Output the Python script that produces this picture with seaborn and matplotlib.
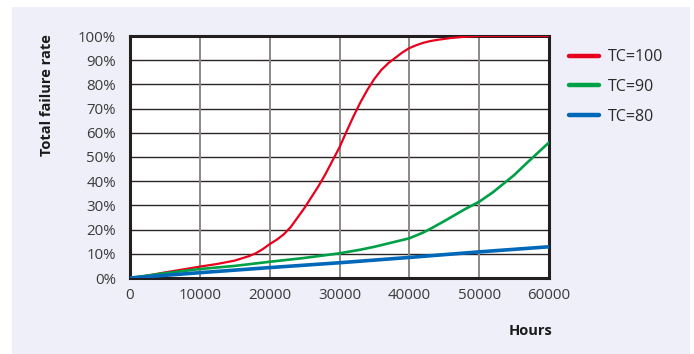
import matplotlib
matplotlib.use("Agg")
import matplotlib.pyplot as plt
import seaborn as sns
import pandas as pd
from matplotlib.patches import Rectangle

sns.set_theme(style="white")
plt.rcParams['font.family'] = ['Open Sans', 'DejaVu Sans']

hours_100 = [0, 2500, 5000, 7500, 10000, 12500, 15000, 17000, 18000, 19000, 20000, 21000, 22000,
             23000, 24000, 25000, 26000, 27000, 28000, 29000, 30000, 31000, 32000, 33000, 34000,
             35000, 36000, 37000, 38000, 39000, 40000, 41000, 42000, 43000, 44000, 46000, 48000,
             50000, 55000, 60000]
rate_100 = [0, 1.0, 2.3, 3.5, 4.7, 5.8, 7.2, 9.0, 10.2, 11.9, 14.0, 15.8, 18.0,
            21.0, 25.0, 29.0, 33.5, 38.0, 43.0, 48.5, 54.0, 60.5, 66.8, 72.6, 77.8,
            82.3, 86.0, 88.8, 91.0, 93.2, 95.0, 96.2, 97.2, 97.9, 98.4, 99.2, 99.7,
            100, 100, 100]

hours_90 = [0, 5000, 10000, 15000, 20000, 25000, 30000, 33000, 35000, 38000, 40000, 42000, 43000,
            45000, 48000, 50000, 52000, 55000, 57000, 60000]
rate_90 = [0, 2.0, 3.7, 5.0, 6.7, 8.3, 10.2, 11.7, 12.9, 15.0, 16.4, 18.8, 20.3,
           23.5, 28.5, 31.5, 35.5, 42.5, 48.0, 56.0]

hours_80 = [0, 10000, 20000, 30000, 40000, 50000, 60000]
rate_80 = [0, 2.2, 4.3, 6.3, 8.5, 10.8, 12.9]

series_names = ["TC=100", "TC=90", "TC=80"]
colors = ["#e8001c", "#00a047", "#0068b8"]

df = pd.concat([
    pd.DataFrame({"Hours": hours_100, "Rate": rate_100, "Series": series_names[0]}),
    pd.DataFrame({"Hours": hours_90, "Rate": rate_90, "Series": series_names[1]}),
    pd.DataFrame({"Hours": hours_80, "Rate": rate_80, "Series": series_names[2]}),
])

fig = plt.figure(figsize=(6.94, 3.54), dpi=100)
fig.patch.set_facecolor("white")
fig.add_artist(Rectangle((12/694, 0), (690-12)/694, 1 - 7/354, transform=fig.transFigure,
                         facecolor="#eeeff8", edgecolor="none", zorder=-10))

ax = fig.add_axes([130/694, 1 - 278/354, (549-130)/694, (278-36)/354])
ax.set_facecolor("white")

sns.lineplot(data=df, x="Hours", y="Rate", hue="Series", hue_order=series_names,
             palette=colors, ax=ax, linewidth=1.8, estimator=None, sort=False, zorder=5)
for line, lw in zip(ax.lines, [1.6, 1.9, 2.6]):
    line.set_linewidth(lw)
    line.set_solid_joinstyle("round")

ax.set_xlim(0, 60000)
ax.set_ylim(0, 100)
ax.set_xticks(range(0, 60001, 10000))
ax.set_yticks(range(0, 101, 10))
ax.set_yticklabels([f"{v}%" for v in range(0, 101, 10)])
ax.tick_params(axis="both", length=0, labelsize=10.8, colors="#3a3a3a")
ax.tick_params(axis="y", pad=10)
ax.tick_params(axis="x", pad=7)

ax.grid(False)
for y in range(10, 100, 10):
    ax.axhline(y, color="#2b2525", lw=1.0, zorder=1)
for x in range(10000, 60000, 10000):
    ax.axvline(x, color="#8c8886", lw=1.4, zorder=1)

for s in ax.spines.values():
    s.set_color("#231f20")
    s.set_linewidth(2.2)
    s.set_visible(True)

ax.set_xlabel("")
ax.set_ylabel("")
fig.text(47/694, 1 - 95/354, "Total failure rate", rotation=90, ha="center", va="center",
         fontsize=10.5, fontweight="bold", color="#1a1a1a")
fig.text(531/694, 1 - 331/354, "Hours", ha="center", va="center",
         fontsize=10.5, fontweight="bold", color="#1a1a1a")

handles, labels = ax.get_legend_handles_labels()
for h in handles:
    h.set_linewidth(3.2)
ax.legend(handles, labels, loc="upper left", bbox_to_anchor=(555/694, 1 - 35/354),
          bbox_transform=fig.transFigure, frameon=False, fontsize=11.5,
          handlelength=1.85, handletextpad=0.55, labelspacing=0.85, labelcolor="#2a2a2a")

fig.savefig("out.png", dpi=100)
